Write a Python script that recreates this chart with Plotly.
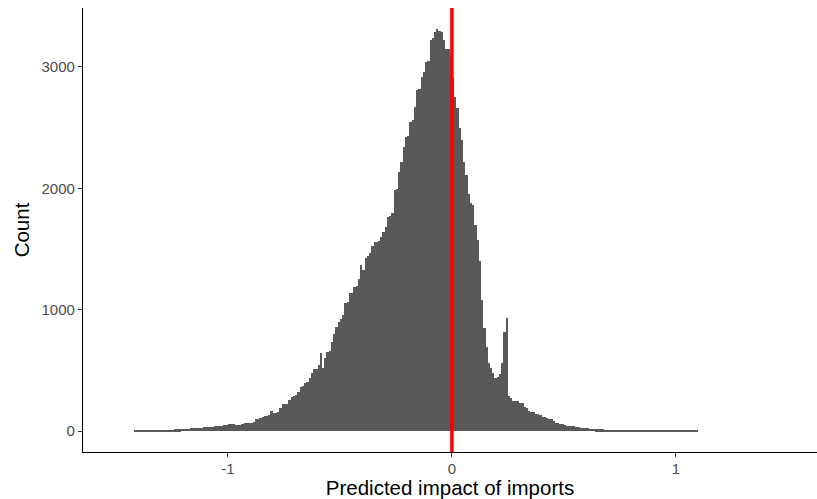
import numpy as np
import plotly.graph_objects as go

# Histogram bins: left edge of first bin and bin width
bin_start = -1.42
bin_width = 0.01

# Counts per bin, bins from -1.42 to 1.10
counts = [
    1, 2, 3, 2, 2, 3, 4, 3, 4, 5,
    6, 7, 8, 8, 10, 10, 12, 11, 13, 14,
    15, 17, 18, 18, 20, 21, 22, 24, 25, 26,
    28, 30, 30, 33, 35, 36, 38, 40, 42, 45,
    46, 50, 55, 58, 56, 50, 50, 52, 55, 66,
    68, 70, 68, 72, 95, 100, 105, 118, 120, 122,
    130, 165, 150, 148, 155, 190, 222, 222, 225, 255,
    283, 285, 300, 324, 365, 370, 395, 400, 437, 480,
    511, 515, 545, 640, 517, 599, 654, 660, 736, 800,
    860, 901, 920, 956, 1052, 1060, 1135, 1140, 1189, 1195,
    1250, 1368, 1327, 1423, 1440, 1464, 1525, 1560, 1560, 1570,
    1600, 1643, 1684, 1766, 1770, 1799, 1986, 1995, 2137, 2220,
    2343, 2426, 2430, 2549, 2563, 2673, 2810, 2815, 2920, 2961,
    3044, 3050, 3223, 3237, 3291, 3310, 3300, 3291, 3223, 3146,
    3146, 3100, 2907, 2750, 2660, 2495, 2400, 2220, 2110, 1950,
    1877, 1863, 1698, 1574, 1400, 1080, 846, 695, 558, 517,
    476, 434, 448, 470, 560, 818, 929, 290, 270, 250,
    250, 245, 228, 228, 200, 187, 165, 159, 155, 137,
    137, 130, 118, 118, 110, 96, 96, 85, 70, 68,
    55, 55, 50, 44, 44, 42, 38, 30, 30, 28,
    25, 22, 22, 20, 18, 17, 15, 15, 14, 13,
    12, 12, 11, 10, 10, 10, 9, 9, 8, 8,
    8, 7, 7, 7, 6, 6, 6, 5, 5, 5,
    4, 5, 4, 4, 3, 4, 3, 3, 3, 2,
    3, 2, 2, 2, 1, 2, 1, 1, 2, 1,
    1, 1,
]

x_ticks = [-1, 0, 1]
y_ticks = [0, 1000, 2000, 3000]
ref_line_x = 0

centers = bin_start + bin_width * (np.arange(len(counts)) + 0.5)

fig = go.Figure()
fig.add_trace(go.Bar(
    x=centers, y=counts, width=bin_width,
    marker=dict(color="#595959", line=dict(width=0)),
    showlegend=False, hoverinfo="x+y",
))

fig.add_shape(type="line", x0=ref_line_x, x1=ref_line_x, y0=0, y1=1,
              xref="x", yref="paper", line=dict(color="#FF0000", width=3.5))

axis_font = dict(family="Liberation Sans, Arial, sans-serif", size=15, color="#4D4D4D")
title_font = dict(family="Liberation Sans, Arial, sans-serif", size=20.5, color="#000000")

fig.update_layout(
    width=817, height=499,
    margin=dict(l=83, r=0, t=8, b=47, autoexpand=False),
    plot_bgcolor="white", paper_bgcolor="white",
    bargap=0,
    xaxis=dict(
        range=[-1.647, 1.63], tickvals=x_ticks, ticktext=[str(v) for v in x_ticks],
        showgrid=False, zeroline=False, showline=True, linecolor="#000000", linewidth=1.3,
        ticks="outside", ticklen=4, tickwidth=1.2, tickcolor="#333333",
        tickfont=axis_font, ticklabelstandoff=-1,
        title=dict(text="Predicted impact of imports", font=title_font, standoff=6),
    ),
    yaxis=dict(
        range=[-173, 3486], tickvals=y_ticks,
        showgrid=False, zeroline=False, showline=True, linecolor="#000000", linewidth=1.3,
        ticks="outside", ticklen=4, tickwidth=1.2, tickcolor="#333333",
        tickfont=axis_font,
        title=dict(text="Count", font=title_font, standoff=6),
    ),
)

fig.write_html("out.html")
